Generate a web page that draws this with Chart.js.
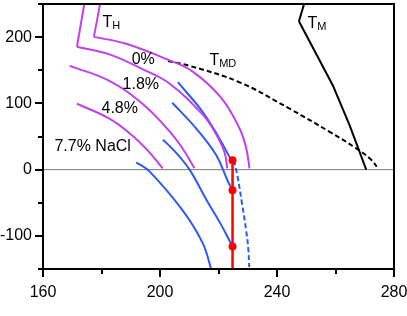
<!DOCTYPE html>
<html>
<head>
<meta charset="utf-8">
<script src="https://cdn.jsdelivr.net/npm/chart.js@4"></script>
<style>
  html, body { margin: 0; padding: 0; background: #fff; }
  #wrap { width: 407px; height: 316px; }
</style>
</head>
<body>
<div id="wrap"><canvas id="phaseChart" width="407" height="316"></canvas></div>
<script>
// --- Data (x = temperature, y = pressure) ---
const xTicks = [160, 200, 240, 280];
const yTicks = [-100, 0, 100, 200];

// hydrate curves T_H (stem above the kink, curve below it)
const th0Stem = [[179.6, 252], [177.4, 200.4]];
const th0 = [[177.4, 200.4], [188.4, 190], [202.7, 166], [211.2, 148], [221, 108], [227.2, 62], [229.5, 32], [230.6, 2]];
const th18Stem = [[174.2, 252], [171.6, 185.5]];
const th18 = [[171.6, 185.5], [182.7, 174], [194, 151.6], [203.2, 130], [214.6, 83], [219, 55], [222, 27], [223, 2]];
const th48 = [[169.1, 156.7], [182.7, 134], [194, 99.4], [203.2, 58], [208, 30], [211.8, 2]];
const th77 = [[171.6, 99.4], [182.7, 77], [190.2, 52.7], [196, 28], [200.9, 2]];

// blue curves
const blue1 = [[206.1, 132], [214.6, 87], [220.3, 47], [224.3, 15], [224.8, 12]];
const blue1Dash = [[225.3, 14], [226.5, -10], [228, -50], [229.4, -90], [230.2, -120], [230.5, -147]];
const blue2 = [[204.2, 101], [212.4, 62], [219.2, 22], [223.2, -17.5], [224.8, -31]];
const blue3 = [[201, 45], [205, 28], [210.1, 0], [215.8, -45], [220.5, -80], [224.8, -116]];
const blue4 = [[191.9, 11], [196.4, -2.7], [207.8, -62], [214.6, -111], [217.5, -150]];

// T_MD and T_M
const tmd = [[202.7, 164], [210.1, 156.7], [227.2, 131.8], [244.3, 92], [258, 57], [267.1, 32], [272.2, 15], [274.5, 2]];
const tmStem = [[249.4, 252], [247.5, 224]];
const tm = [[247.5, 224], [259.1, 127], [264.8, 67], [270.5, 0]];

// red isotherm and its points
const redLine = [[224.8, 14], [224.8, -150]];
const redDots = [[224.8, 14], [224.8, -31], [224.8, -116]];
const zeroLine = [[160, 0], [280, 0]];

// labels: text, subscript, x, y (baseline, data units)
const notes = [
  ["T", "H", 180.3, 215.4],
  ["0%", "", 190.3, 158.7],
  ["1.8%", "", 187.2, 121.3],
  ["4.8%", "", 180, 85.5],
  ["7.7% NaCl", "", 163.9, 28.8],
  ["T", "MD", 216.9, 157.2],
  ["T", "M", 250.4, 213.9],
];

const MAGENTA = "#c040ee";
const BLUE = "#2a5cf2";
const FONT = "'Liberation Sans', Arial, Helvetica, sans-serif";

const pts = (arr) => arr.map(([x, y]) => ({ x, y }));

function curve(arr, color, opts = {}) {
  return Object.assign({
    data: pts(arr),
    borderColor: color,
    borderWidth: 2,
    pointRadius: 0,
    tension: 0.4,
    fill: false,
    order: 2,
  }, opts);
}

// --- Frame, ticks and text ---
const framePlugin = {
  id: "frame",
  afterDatasetsDraw(chart) {
    const { ctx, chartArea: a, scales } = chart;
    const xs = scales.x, ys = scales.y;
    ctx.save();
    ctx.strokeStyle = "#000";
    ctx.lineWidth = 2;
    ctx.strokeRect(a.left, a.top, a.right - a.left, a.bottom - a.top);

    xs.ticks.forEach((t) => {
      const px = Math.round(xs.getPixelForValue(t.value));
      const len = xTicks.includes(t.value) ? 8 : 5;
      ctx.beginPath();
      ctx.moveTo(px, a.bottom);
      ctx.lineTo(px, a.bottom + len);
      ctx.stroke();
    });
    ys.ticks.forEach((t) => {
      const py = Math.round(ys.getPixelForValue(t.value));
      const len = yTicks.includes(t.value) ? 8 : 5;
      ctx.beginPath();
      ctx.moveTo(a.left, py);
      ctx.lineTo(a.left - len, py);
      ctx.stroke();
    });

    ctx.fillStyle = "#000";
    ctx.textBaseline = "alphabetic";
    ctx.textAlign = "left";
    notes.forEach(([text, sub, x, y]) => {
      const px = xs.getPixelForValue(x);
      const py = ys.getPixelForValue(y);
      ctx.font = "16px " + FONT;
      ctx.fillText(text, px, py);
      if (sub) {
        const w = ctx.measureText(text).width;
        ctx.font = "11px " + FONT;
        ctx.fillText(sub, px + w, py + 2);
      }
    });
    ctx.restore();
  },
};

Chart.defaults.font.family = FONT;
Chart.defaults.font.size = 16;
Chart.defaults.color = "#000";

const ctx = document.getElementById("phaseChart").getContext("2d");
new Chart(ctx, {
  type: "line",
  data: {
    datasets: [
      curve(zeroLine, "#777777", { borderWidth: 1, tension: 0, order: 9 }),
      curve(th0Stem, MAGENTA, { tension: 0 }),
      curve(th0, MAGENTA),
      curve(th18Stem, MAGENTA, { tension: 0 }),
      curve(th18, MAGENTA),
      curve(th48, MAGENTA),
      curve(th77, MAGENTA),
      curve(blue1, BLUE),
      curve(blue1Dash, BLUE, { borderDash: [5, 3] }),
      curve(blue2, BLUE),
      curve(blue3, BLUE),
      curve(blue4, BLUE),
      curve(tmd, "#000", { borderDash: [5, 3] }),
      curve(tmStem, "#000", { tension: 0 }),
      curve(tm, "#000", { tension: 0 }),
      curve(redLine, "#ff0000", { borderWidth: 2.5, tension: 0, order: 1 }),
      {
        data: pts(redDots),
        showLine: false,
        pointRadius: 4,
        pointBackgroundColor: "#ff0000",
        pointBorderWidth: 0,
        order: 0,
      },
    ],
  },
  options: {
    responsive: false,
    animation: false,
    layout: { padding: { top: 1, right: 13, left: 0, bottom: 0 } },
    plugins: { legend: { display: false }, tooltip: { enabled: false } },
    scales: {
      x: {
        type: "linear",
        min: 160,
        max: 280,
        grid: { display: false, drawTicks: true, tickLength: 14 },
        border: { display: false },
        ticks: {
          stepSize: 20,
          padding: 0,
          maxRotation: 0,
          autoSkip: false,
          callback: (v) => (xTicks.includes(v) ? v : ""),
        },
        afterFit: (s) => {
          s.height = 47;
          s.paddingLeft = 0;
          s.paddingRight = 0;
        },
      },
      y: {
        min: -150,
        max: 250,
        grid: { display: false, drawTicks: true, tickLength: 11 },
        border: { display: false },
        ticks: {
          stepSize: 50,
          padding: 0,
          autoSkip: false,
          callback: (v) => (yTicks.includes(v) ? v : ""),
        },
        afterFit: (s) => {
          s.width = 43;
          s.paddingTop = 0;
          s.paddingBottom = 0;
        },
      },
    },
  },
  plugins: [framePlugin],
});
</script>
</body>
</html>
